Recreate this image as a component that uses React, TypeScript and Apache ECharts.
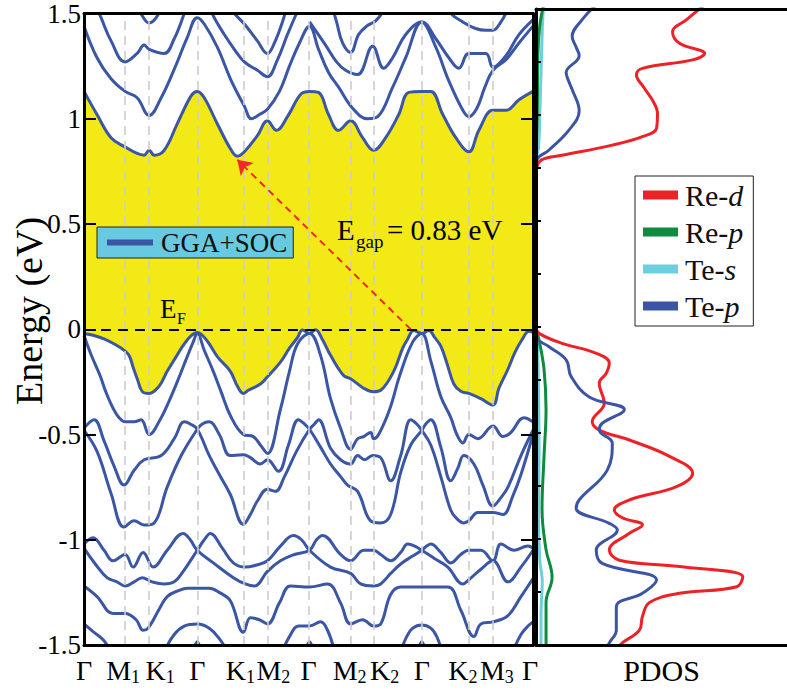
import React, { useEffect, useRef } from 'react';
import * as echarts from 'echarts';

const FONT = "'Liberation Serif', 'Times New Roman', serif";
const BLUE = '#3a56a5';

// high-symmetry path
const kTicks = [0, 41, 65, 113, 159, 183, 224, 266, 289, 337, 384, 408, 448];
const kLabels = ['Γ', 'M1', 'K1', 'Γ', 'K1', 'M2', 'Γ', 'M2', 'K2', 'Γ', 'K2', 'M3', 'Γ'];
const kShift = [0, -2, 11, 0, -3, 6, 0, -1, 11, 0, -6, 4, -3];

// conduction bands [k, E]
const cb1 = [[0,1.13],[13,1.02],[27,0.91],[41,0.866],[53,0.835],[60,0.827],[65,0.85],[70,0.827],[80,0.85],[93,0.976],[107,1.11],[113,1.13],[120,1.10],[133,0.976],[147,0.85],[153,0.822],[160,0.843],[173,0.92],[183,0.99],[192,0.945],[203,1.01],[217,1.12],[225,1.13],[234,1.125],[244,1.02],[254,0.945],[266,0.99],[278,0.91],[289,0.85],[301,0.91],[314,1.02],[324,1.125],[337,1.13],[346,1.13],[358,1.02],[371,0.91],[384,0.843],[394,0.945],[408,1.04],[421,1.04],[434,1.09],[448,1.13]];
const cb2 = [[0,1.44],[13,1.29],[27,1.19],[41,1.13],[53,1.10],[65,1.015],[77,1.10],[90,1.235],[103,1.385],[113,1.48],[120,1.45],[133,1.34],[147,1.18],[160,1.06],[167,1.0],[175,1.02],[183,1.045],[195,1.13],[205,1.25],[215,1.36],[225,1.44],[234,1.33],[244,1.22],[254,1.15],[268,1.05],[283,1.0],[293,1.01],[308,1.15],[321,1.29],[337,1.46],[351,1.34],[364,1.18],[378,1.04],[384,1.01],[392,1.05],[400,1.15],[408,1.23],[421,1.28],[434,1.36],[448,1.44]];
const cb3a = [[10,1.56],[17,1.48],[27,1.37],[41,1.27],[53,1.31],[60,1.35],[65,1.33],[80,1.31],[90,1.38],[100,1.50],[104,1.56]];
const cb3b = [[122,1.56],[130,1.48],[140,1.40],[150,1.33],[160,1.27],[173,1.23],[183,1.20],[193,1.28],[203,1.40],[212,1.50],[218,1.56]];
const cb3c = [[225,1.46],[241,1.35],[252,1.27],[261,1.23],[273,1.21],[288,1.345],[299,1.24],[308,1.29],[321,1.40],[337,1.46],[351,1.38],[364,1.29],[374,1.24],[384,1.31],[401,1.31],[408,1.245],[421,1.30],[434,1.40],[448,1.47]];
const cb4a = [[50,1.56],[58,1.49],[65,1.455],[72,1.48],[80,1.56]];
const cb4b = [[140,1.56],[150,1.50],[160,1.45],[173,1.37],[183,1.31],[190,1.36],[198,1.46],[204,1.56]];
const cb4c = [[246,1.56],[252,1.46],[258,1.36],[266,1.315],[274,1.40],[282,1.44],[291,1.465],[300,1.52],[305,1.56]];
const cb4d = [[358,1.56],[366,1.5],[378,1.46],[390,1.43],[401,1.42],[408,1.42],[416,1.46],[423,1.52],[428,1.56]];

// valence bands
const vb1 = [[0,-0.02],[10,-0.03],[20,-0.046],[32,-0.075],[40,-0.10],[45,-0.125],[49,-0.18],[53,-0.234],[59,-0.30],[65,-0.305],[75,-0.27],[83,-0.20],[92,-0.13],[100,-0.07],[107,-0.03],[113,-0.015],[122,-0.05],[133,-0.13],[146,-0.20],[153,-0.27],[159,-0.305],[164,-0.29],[176,-0.26],[183,-0.226],[196,-0.156],[205,-0.09],[213,-0.04],[218,-0.003],[225,-0.02],[231,-0.002],[238,-0.05],[246,-0.124],[259,-0.22],[266,-0.235],[279,-0.28],[289,-0.297],[296,-0.29],[309,-0.2],[318,-0.09],[323,-0.046],[329,-0.006],[337,-0.02],[344,-0.006],[350,-0.04],[356,-0.08],[362,-0.16],[369,-0.26],[376,-0.295],[384,-0.305],[396,-0.33],[408,-0.36],[414,-0.28],[423,-0.19],[430,-0.11],[437,-0.05],[444,-0.01],[448,-0.015]];
const vb2 = [[0,-0.03],[7,-0.12],[16,-0.22],[22,-0.30],[29,-0.375],[35,-0.42],[41,-0.44],[50,-0.44],[57,-0.43],[65,-0.50],[77,-0.42],[85,-0.34],[93,-0.25],[103,-0.13],[109,-0.06],[113,-0.02],[120,-0.1],[129,-0.2],[137,-0.3],[146,-0.41],[159,-0.50],[169,-0.51],[176,-0.55],[183,-0.59],[196,-0.38],[205,-0.2],[213,-0.07],[225,-0.02],[236,-0.124],[246,-0.33],[256,-0.47],[266,-0.57],[273,-0.52],[279,-0.51],[286,-0.49],[289,-0.52],[294,-0.50],[305,-0.38],[315,-0.22],[328,-0.06],[337,-0.02],[346,-0.15],[356,-0.32],[366,-0.42],[372,-0.50],[378,-0.54],[384,-0.50],[393,-0.52],[408,-0.46],[418,-0.51],[426,-0.49],[439,-0.42],[448,-0.44]];
const vb3s1 = [[0,-0.47],[10,-0.43],[20,-0.53],[30,-0.65],[40,-0.74],[50,-0.67],[60,-0.62],[77,-0.60],[90,-0.52],[100,-0.44],[106,-0.45],[113,-0.475]];
const vb3s2 = [[113,-0.475],[118,-0.45],[125,-0.44],[135,-0.50],[146,-0.60],[159,-0.596],[166,-0.61],[176,-0.64],[183,-0.62],[194,-0.675],[204,-0.55],[214,-0.43],[220,-0.45],[225,-0.475]];
const vb3s3 = [[225,-0.475],[230,-0.45],[234,-0.43],[246,-0.565],[256,-0.62],[266,-0.64],[273,-0.60],[280,-0.62],[288,-0.60],[296,-0.61],[306,-0.72],[316,-0.60],[326,-0.43],[332,-0.45],[337,-0.48]];
const vb3s4 = [[337,-0.48],[341,-0.45],[346,-0.43],[356,-0.56],[366,-0.72],[373,-0.66],[379,-0.60],[389,-0.64],[398,-0.74],[408,-0.84],[416,-0.80],[423,-0.75],[436,-0.60],[448,-0.48]];
const vb4s1 = [[0,-0.48],[13,-0.58],[27,-0.78],[40,-0.94],[50,-0.91],[60,-0.93],[70,-0.92],[83,-0.75],[97,-0.60],[113,-0.475]];
const vb4s2 = [[113,-0.475],[125,-0.60],[135,-0.69],[146,-0.785],[159,-0.926],[166,-0.88],[173,-0.816],[183,-0.76],[191,-0.77],[200,-0.70],[212,-0.58],[225,-0.475]];
const vb4s3 = [[225,-0.475],[236,-0.56],[246,-0.64],[256,-0.70],[263,-0.74],[273,-0.77],[286,-0.91],[296,-0.92],[306,-0.88],[316,-0.68],[326,-0.55],[337,-0.48]];
const vb4s4 = [[337,-0.48],[346,-0.55],[356,-0.70],[366,-0.86],[372,-0.90],[379,-0.92],[384,-0.91],[393,-0.87],[408,-0.87],[418,-0.88],[428,-0.79],[436,-0.69],[448,-0.50]];
const vb5s1 = [[0,-1.02],[9,-0.99],[20,-1.05],[29,-1.10],[41,-1.07],[49,-1.13],[59,-1.06],[69,-1.13],[83,-1.05],[99,-0.97],[106,-1.0],[113,-1.05]];
const vb5s2 = [[113,-1.05],[120,-1.0],[126,-0.97],[138,-1.04],[149,-1.11],[161,-1.13],[172,-1.12],[183,-1.10],[196,-1.03],[209,-0.98],[217,-1.0],[225,-1.05]];
const vb5s3 = [[225,-1.05],[232,-1.0],[238,-0.98],[256,-1.07],[266,-1.10],[279,-1.05],[289,-1.05],[296,-1.07],[306,-1.10],[316,-1.06],[323,-1.02],[330,-1.03],[337,-1.05]];
const vb5s4 = [[337,-1.05],[342,-1.03],[346,-1.02],[356,-1.06],[366,-1.11],[376,-1.07],[384,-1.05],[396,-1.05],[408,-1.10],[416,-1.02],[429,-1.05],[443,-1.03],[448,-1.04]];
const vb6s1 = [[0,-1.04],[12,-1.12],[23,-1.18],[33,-1.20],[41,-1.22],[50,-1.20],[58,-1.18],[68,-1.20],[80,-1.21],[90,-1.20],[99,-1.15],[113,-1.05]];
const vb6s2 = [[113,-1.05],[129,-1.11],[149,-1.18],[161,-1.21],[170,-1.22],[183,-1.15],[196,-1.10],[210,-1.07],[225,-1.05]];
const vb6s3 = [[225,-1.05],[246,-1.13],[266,-1.16],[276,-1.21],[289,-1.22],[296,-1.21],[306,-1.16],[316,-1.115],[327,-1.08],[337,-1.05]];
const vb6s4 = [[337,-1.05],[350,-1.09],[363,-1.13],[378,-1.21],[384,-1.19],[396,-1.14],[408,-1.10],[423,-1.20],[436,-1.13],[448,-1.05]];
const vb7 = [[0,-1.22],[13,-1.27],[29,-1.35],[41,-1.35],[52,-1.38],[59,-1.43],[64,-1.42],[75,-1.33],[83,-1.27],[95,-1.24],[103,-1.23],[113,-1.23],[125,-1.23],[135,-1.25],[146,-1.29],[159,-1.44],[166,-1.37],[175,-1.38],[183,-1.40],[195,-1.30],[206,-1.22],[225,-1.225],[243,-1.21],[256,-1.30],[266,-1.40],[278,-1.38],[289,-1.41],[296,-1.40],[306,-1.26],[316,-1.225],[337,-1.225],[363,-1.225],[376,-1.335],[389,-1.46],[396,-1.40],[408,-1.39],[423,-1.36],[436,-1.27],[448,-1.185]];
const vb8a = [[0,-1.40],[10,-1.44],[20,-1.48],[26,-1.53]];
const vb8b = [[80,-1.53],[90,-1.45],[100,-1.41],[113,-1.40],[125,-1.42],[135,-1.47],[143,-1.53]];
const vb8c = [[198,-1.53],[205,-1.46],[214,-1.41],[225,-1.41],[236,-1.39],[243,-1.43],[250,-1.53]];
const vb8d = [[316,-1.53],[322,-1.46],[328,-1.42],[337,-1.405],[346,-1.42],[352,-1.46],[357,-1.53]];
const vb8e = [[428,-1.53],[436,-1.45],[443,-1.41],[448,-1.39]];
const spike1 = [[109,-1.53],[113,-1.485],[117,-1.53]];
const spike2 = [[221,-1.53],[225,-1.485],[229,-1.53]];
const spike3 = [[333,-1.53],[337,-1.485],[341,-1.53]];

// PDOS [dos, E]
const pdosReD = [[6.72,1.52],[6.0,1.45],[5.44,1.393],[5.72,1.338],[6.72,1.29],[6.24,1.26],[4.24,1.22],[4.0,1.19],[4.32,1.126],[4.64,1.07],[4.84,1.008],[4.8,0.937],[4.24,0.898],[3.04,0.858],[1.04,0.81],[0.24,0.79],[0.04,0.756],[0,0.7],[0,0],[0.12,-0.03],[1.04,-0.077],[2.4,-0.124],[2.92,-0.17],[2.8,-0.218],[2.52,-0.265],[2.72,-0.36],[2.24,-0.446],[2.52,-0.486],[3.72,-0.533],[5.32,-0.61],[6.24,-0.69],[5.6,-0.753],[3.72,-0.816],[3.12,-0.863],[3.44,-0.90],[4.24,-0.934],[3.72,-0.973],[2.92,-1.052],[3.32,-1.10],[5.72,-1.13],[8.24,-1.178],[8.0,-1.225],[5.72,-1.256],[4.52,-1.30],[4.24,-1.366],[4.12,-1.43],[3.44,-1.49],[3.2,-1.52]];
const pdosReP = [[0.3,1.52],[0.15,1.42],[0.08,1.3],[0.05,1.0],[0,0.8],[0,0],[0.12,-0.06],[0.32,-0.2],[0.4,-0.39],[0.32,-0.61],[0.24,-0.86],[0.4,-1.05],[0.64,-1.18],[0.4,-1.3],[0.4,-1.52]];
const pdosTeS = [[0.3,1.52],[0.25,1.4],[0.2,1.2],[0.15,1.0],[0.1,0.85],[0,0.78],[0,0],[0.05,-0.05],[0.1,-0.3],[0.12,-0.6],[0.1,-0.9],[0.15,-1.1],[0.25,-1.2],[0.2,-1.35],[0.2,-1.52]];
const pdosTeP = [[2.4,1.52],[1.84,1.45],[1.44,1.37],[1.6,1.32],[1.72,1.28],[1.2,1.20],[1.3,1.16],[1.44,1.12],[1.72,1.02],[1.32,0.93],[0.52,0.835],[0.04,0.79],[0,0.75],[0,0],[0,-0.045],[0.52,-0.093],[1.2,-0.155],[1.4,-0.234],[2.12,-0.33],[3.52,-0.39],[2.64,-0.454],[2.52,-0.486],[3.04,-0.548],[2.84,-0.675],[1.72,-0.816],[1.6,-0.855],[2.92,-0.926],[3.24,-0.957],[2.4,-1.052],[2.64,-1.115],[4.8,-1.193],[4.24,-1.256],[3.2,-1.32],[3.2,-1.43],[2.92,-1.49],[2.8,-1.52]];

const join = (...segs: number[][][]) => segs.reduce((acc, s, i) => acc.concat(i === 0 ? s : s.slice(1)), [] as number[][]);
const ts = (size: number, extra: any = {}) => ({ fontSize: size, fontFamily: FONT, color: '#000', ...extra });

export default function App() {
  const ref = useRef<HTMLDivElement>(null);
  useEffect(() => {
    const chart = echarts.init(ref.current!, null, { renderer: 'svg' });
    const bandA = join(vb3s1, vb4s2, vb3s3, vb4s4);
    const bandB = join(vb4s1, vb3s2, vb4s3, vb3s4);
    const bandC = join(vb5s1, vb6s2, vb5s3, vb6s4);
    const bandD = join(vb6s1, vb5s2, vb6s3, vb5s4);
    const lines = [cb1, cb2, cb3a, cb3b, cb3c, cb4a, cb4b, cb4c, cb4d, vb1, vb2, bandA, bandB, bandC, bandD, vb7, vb8a, vb8b, vb8c, vb8d, vb8e, spike1, spike2, spike3];
    const bandSeries = lines.map((d) => ({
      type: 'line', name: 'GGA+SOC', xAxisIndex: 0, yAxisIndex: 0, data: d, smooth: 0.4,
      symbol: 'none', silent: true, z: 4, lineStyle: { color: BLUE, width: 3 }, itemStyle: { color: BLUE },
    }));
    const pdos = (name: string, data: number[][], color: string) => ({
      type: 'line', name, xAxisIndex: 2, yAxisIndex: 2, data, smooth: 0.4, symbol: 'none', silent: true, z: 4,
      lineStyle: { color, width: 3 }, itemStyle: { color },
    });
    const axisLine = { show: true, onZero: false, lineStyle: { color: '#000', width: 3 } };
    const rich: any = {};
    kLabels.forEach((l, i) => {
      const sh = kShift[i];
      const left = sh > 0 ? 2 * sh : 0;
      const right = sh < 0 ? -2 * sh : 0;
      const hasSub = l.length > 1;
      rich['m' + i] = ts(28, { lineHeight: 30, padding: [0, hasSub ? 0 : right, 0, left] });
      rich['s' + i] = ts(18, { lineHeight: 30, padding: [13, right, 0, 0] });
    });
    const fmt = (v: number) => {
      const i = kTicks.indexOf(v);
      if (i < 0) return '';
      const l = kLabels[i];
      return l.length > 1 ? `{m${i}|${l[0]}}{s${i}|${l[1]}}` : `{m${i}|${l}}`;
    };
    const gtext = (x: number, y: number, text: string, size: number) => ({
      type: 'text', x, y, z: 20,
      style: { text: `{t|${text}}`, rich: { t: { fontSize: size, fontFamily: FONT, fill: '#000', color: '#000' } },
        fontSize: size, fontFamily: FONT, fill: '#000', verticalAlign: 'middle', textVerticalAlign: 'middle' },
    });
    const option: any = {
      animation: false,
      backgroundColor: '#fff',
      textStyle: { fontFamily: FONT, color: '#000' },
      grid: [
        { left: 84, top: 9, width: 449, height: 636 },
        { left: 536, top: 9, width: 251, height: 636 },
      ],
      xAxis: [
        { gridIndex: 0, type: 'value', min: 0, max: 448, z: 10, axisLine, axisTick: { show: false }, splitLine: { show: false },
          axisLabel: { customValues: kTicks, margin: 10, color: '#000', fontFamily: FONT, formatter: fmt, rich } },
        { gridIndex: 0, type: 'value', position: 'top', min: 0, max: 448, z: 10, axisLine, axisTick: { show: false }, axisLabel: { show: false }, splitLine: { show: false } },
        { gridIndex: 1, type: 'value', min: 0, max: 10, z: 10, axisLine, axisTick: { show: false }, axisLabel: { show: false }, splitLine: { show: false },
          name: '{t|PDOS}', nameLocation: 'middle', nameGap: 10, nameTextStyle: { fontSize: 30, fontFamily: FONT, color: '#000', rich: { t: ts(30) } } },
        { gridIndex: 1, type: 'value', position: 'top', min: 0, max: 10, z: 10, axisLine, axisTick: { show: false }, axisLabel: { show: false }, splitLine: { show: false } },
      ],
      yAxis: [
        { gridIndex: 0, type: 'value', min: -1.5, max: 1.5, interval: 0.5, z: 10, axisLine,
          axisTick: { show: true, inside: true, length: 12, lineStyle: { color: '#000', width: 2 } },
          axisLabel: { fontSize: 27, fontFamily: FONT, color: '#000', margin: 3, formatter: (v: number) => `{t|${v}}`, rich: { t: ts(27) } },
          splitLine: { show: false } },
        { gridIndex: 0, type: 'value', position: 'right', min: -1.5, max: 1.5, interval: 0.5, z: 10, axisLine,
          axisTick: { show: true, inside: true, length: 12, lineStyle: { color: '#000', width: 2 } },
          axisLabel: { show: false }, splitLine: { show: false } },
        { gridIndex: 1, type: 'value', min: -1.5, max: 1.5, interval: 0.25, z: 10, axisLine,
          axisTick: { show: true, inside: true, length: 5, lineStyle: { color: '#000', width: 2 } },
          axisLabel: { show: false }, splitLine: { show: false } },
      ],
      legend: [
        { data: ['GGA+SOC'], left: 97, top: 227, orient: 'horizontal', icon: 'rect', itemWidth: 46, itemHeight: 6,
          backgroundColor: '#68cae0', borderColor: '#222', borderWidth: 1, borderRadius: 0, padding: [2, 6, 2, 10], selectedMode: false, z: 20,
          formatter: (n: string) => `{t|${n}}`,
          textStyle: { fontSize: 27, fontFamily: FONT, color: '#111', padding: [0, 0, 0, 3], rich: { t: ts(27, { color: '#111' }) } } },
        { data: ['Re-d', 'Re-p', 'Te-s', 'Te-p'], left: 635, top: 176, orient: 'vertical', icon: 'rect', itemWidth: 35, itemHeight: 9, itemGap: 7,
          backgroundColor: '#fff', borderColor: '#222', borderWidth: 1, borderRadius: 0, padding: [4, 10, 5, 8], selectedMode: false, z: 20,
          formatter: (n: string) => { const p = n.split('-'); return `{t|${p[0]}-}{i|${p[1]}}`; },
          textStyle: { fontSize: 30, fontFamily: FONT, color: '#111', padding: [0, 0, 0, 2],
            rich: { t: ts(30, { color: '#111' }), i: ts(30, { fontStyle: 'italic', color: '#111' }) } } },
      ],
      graphic: [
        { type: 'text', x: 29, y: 311, rotation: Math.PI / 2, z: 20,
          style: { text: 'Energy (eV)', fontSize: 38, fontFamily: FONT, fill: '#000', align: 'center', verticalAlign: 'middle', textAlign: 'center', textVerticalAlign: 'middle' } },
        gtext(337, 230, 'E', 29),
        gtext(356, 241, 'gap', 19),
        gtext(387, 230, '= 0.83 eV', 29),
        gtext(160, 309, 'E', 27),
        gtext(177, 318, 'F', 16),
      ],
      series: [
        { type: 'line', name: 'gapTop', xAxisIndex: 0, yAxisIndex: 0, data: cb1, smooth: 0.4, symbol: 'none', silent: true, z: 1,
          lineStyle: { width: 0, opacity: 0 }, areaStyle: { color: '#f2e916', opacity: 1, origin: 'start' } },
        { type: 'line', name: 'gapBottom', xAxisIndex: 0, yAxisIndex: 0, data: vb1, smooth: 0.4, symbol: 'none', silent: true, z: 2,
          lineStyle: { width: 0, opacity: 0 }, areaStyle: { color: '#ffffff', opacity: 1, origin: 'start' } },
        { type: 'line', name: 'guides', xAxisIndex: 0, yAxisIndex: 0, data: [[0, 0], [448, 0]], symbol: 'none', silent: true, z: 3,
          lineStyle: { opacity: 0 },
          markLine: { silent: true, symbol: ['none', 'none'], label: { show: false }, animation: false,
            data: [
              ...kTicks.slice(1, -1).map((v) => ({ xAxis: v, lineStyle: { color: '#cdcdcd', type: [9, 6], width: 1.6 } })),
              { yAxis: 0, lineStyle: { color: '#000', type: [10, 7], width: 1.8 } },
            ] } },
        ...bandSeries,
        { type: 'line', name: 'arrow', xAxisIndex: 0, yAxisIndex: 0, data: [[0, 0]], symbol: 'none', silent: true, z: 6,
          lineStyle: { opacity: 0 },
          markLine: { silent: true, symbol: ['none', 'arrow'], symbolSize: 14, label: { show: false }, animation: false,
            lineStyle: { color: '#ee2a2a', type: [7, 5], width: 2 },
            data: [[{ coord: [326, 0] }, { coord: [153, 0.805] }]] } },
        pdos('Te-s', pdosTeS, '#6dcfdd'),
        pdos('Re-p', pdosReP, '#0f8b3f'),
        pdos('Re-d', pdosReD, '#ec2227'),
        pdos('Te-p', pdosTeP, '#3b55a4'),
      ],
    };
    chart.setOption(option);
    return () => chart.dispose();
  }, []);
  return <div ref={ref} style={{ position: 'fixed', left: 0, top: 0, width: 787, height: 692, background: '#fff' }} />;
}
